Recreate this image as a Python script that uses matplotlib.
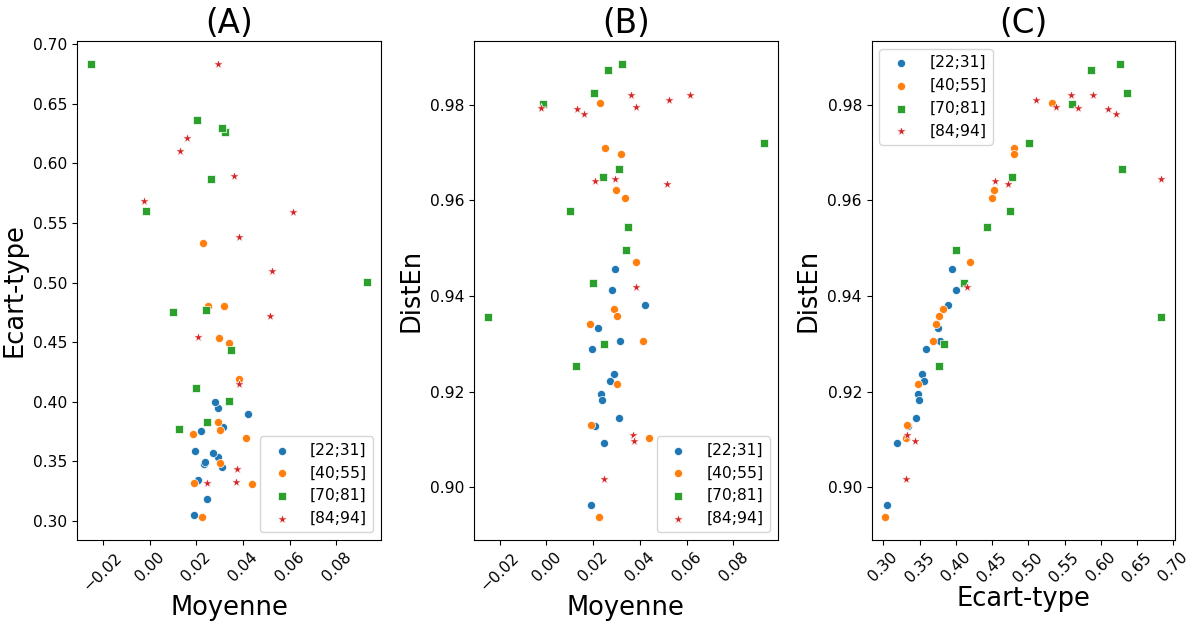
import matplotlib
matplotlib.use("Agg")
import matplotlib.pyplot as plt
from matplotlib.ticker import MultipleLocator
import numpy as np

groups = ["[22;31]", "[40;55]", "[70;81]", "[84;94]"]
colors = ["#1f77b4", "#ff7f0e", "#2ca02c", "#d62728"]
markers = ["o", "o", "s", "*"]

# Moyenne, Ecart-type, DistEn per group
moy_22 = [0.0295, 0.0282, 0.0421, 0.0221, 0.0315, 0.0194, 0.0291, 0.0273, 0.0233, 0.0237, 0.0312, 0.0207, 0.0245, 0.0192]
ect_22 = [0.3947, 0.3998, 0.3899, 0.3754, 0.3788, 0.3588, 0.3535, 0.3566, 0.3474, 0.3498, 0.3456, 0.3346, 0.3188, 0.3048]
dis_22 = [0.9456, 0.9412, 0.9381, 0.9334, 0.9306, 0.9289, 0.9236, 0.9222, 0.9195, 0.9182, 0.9145, 0.9129, 0.9092, 0.8962]

moy_40 = [0.0230, 0.0251, 0.0318, 0.0297, 0.0338, 0.0384, 0.0291, 0.0300, 0.0187, 0.0415, 0.0302, 0.0189, 0.0440, 0.0226]
ect_40 = [0.5330, 0.4800, 0.4802, 0.4533, 0.4494, 0.4195, 0.3826, 0.3762, 0.3726, 0.3692, 0.3483, 0.3320, 0.3308, 0.3030]
dis_40 = [0.9804, 0.9709, 0.9697, 0.9622, 0.9606, 0.9472, 0.9372, 0.9358, 0.9342, 0.9305, 0.9216, 0.9130, 0.9104, 0.8937]

moy_70 = [0.0324, 0.0265, 0.0202, -0.0013, 0.0930, 0.0312, 0.0240, 0.0100, 0.0350, 0.0342, 0.0197, -0.0250, 0.0248, 0.0128]
ect_70 = [0.6264, 0.5870, 0.6365, 0.5600, 0.5006, 0.6299, 0.4771, 0.4752, 0.4436, 0.4005, 0.4112, 0.6835, 0.3834, 0.3768]
dis_70 = [0.9886, 0.9872, 0.9824, 0.9802, 0.9721, 0.9665, 0.9649, 0.9577, 0.9545, 0.9496, 0.9428, 0.9357, 0.9299, 0.9253]

moy_84 = [0.0361, 0.0616, 0.0526, 0.0384, -0.0024, 0.0132, 0.0160, 0.0206, 0.0292, 0.0514, 0.0384, 0.0370, 0.0374, 0.0248]
ect_84 = [0.5894, 0.5589, 0.5101, 0.5382, 0.5685, 0.6106, 0.6210, 0.4542, 0.6837, 0.4717, 0.4151, 0.3325, 0.3438, 0.3316]
dis_84 = [0.9820, 0.9820, 0.9810, 0.9795, 0.9794, 0.9792, 0.9780, 0.9641, 0.9644, 0.9634, 0.9418, 0.9110, 0.9096, 0.9018]

moy = [moy_22, moy_40, moy_70, moy_84]
ect = [ect_22, ect_40, ect_70, ect_84]
dis = [dis_22, dis_40, dis_70, dis_84]

fig = plt.figure(figsize=(11.91, 6.21), dpi=100)
positions = [[0.0649, 0.1304, 0.2547, 0.8035],
             [0.3982, 0.1304, 0.2547, 0.8035],
             [0.7319, 0.1304, 0.2549, 0.8035]]
axes = [fig.add_axes(p) for p in positions]

panels = [
    ("(A)", moy, ect, "Moyenne", "Ecart-type", "lower right", 0.02, 0.05),
    ("(B)", moy, dis, "Moyenne", "DistEn", "lower right", 0.02, 0.02),
    ("(C)", ect, dis, "Ecart-type", "DistEn", "upper left", 0.05, 0.02),
]

for i, (ax, (title, xs, ys, xl, yl, loc, xstep, ystep)) in enumerate(zip(axes, panels)):
    for g, c, m, x, y in zip(groups, colors, markers, xs, ys):
        s = 55 if m == "*" else 34
        ax.scatter(x, y, c=c, marker=m, s=s, edgecolors="white", linewidths=0.5, label=g)
    ax.set_title(title, fontsize=23.5)
    ax.set_xlabel(xl, fontsize=18.5)
    ax.set_ylabel(yl, fontsize=18.5)
    ax.xaxis.set_major_locator(MultipleLocator(xstep))
    ax.yaxis.set_major_locator(MultipleLocator(ystep))
    ax.tick_params(axis="both", labelsize=11.2)
    ax.tick_params(axis="x", labelrotation=45)
    ax.legend(loc=loc, fontsize=11.2)
    if i < 2:
        ax.xaxis.set_label_coords(0.5, -0.11)
    else:
        ax.xaxis.set_label_coords(0.5, -0.092)

fig.savefig("out.png", dpi=100)
